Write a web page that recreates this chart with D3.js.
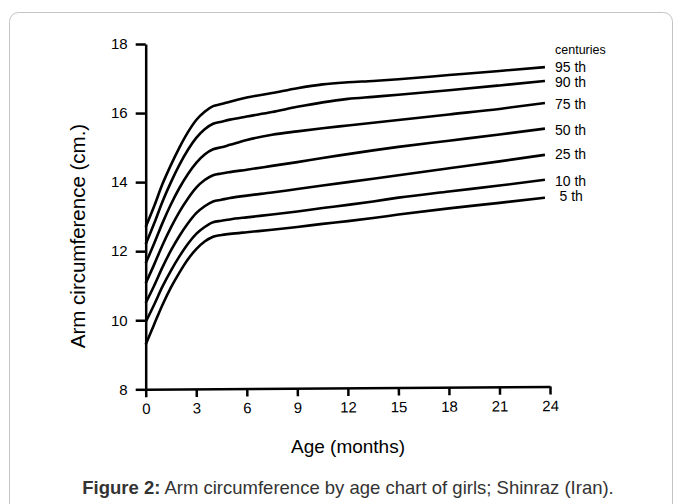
<!DOCTYPE html>
<html>
<head>
<meta charset="utf-8">
<script src="https://cdn.jsdelivr.net/npm/d3@7"></script>
<style>
  html, body { margin: 0; padding: 0; background: #fff; }
  svg { display: block; font-family: "Liberation Sans", Arial, sans-serif; }
</style>
</head>
<body>
<svg id="chart" width="681" height="504"></svg>
<script>
// ---- data ----
const months = [0, 0.5, 1, 1.5, 2, 2.5, 3, 3.5, 4, 4.5, 5, 6, 7.5, 9, 10.5, 12, 13.5, 15, 18, 21, 23.7];
const p95 = [12.7, 13.3, 13.95, 14.5, 15.0, 15.44, 15.8, 16.04, 16.2, 16.26, 16.33, 16.45, 16.58, 16.72, 16.83, 16.89, 16.93, 16.98, 17.1, 17.22, 17.33];
const p90 = [12.2, 12.8, 13.44, 14.0, 14.5, 14.93, 15.28, 15.53, 15.69, 15.75, 15.81, 15.9, 16.03, 16.18, 16.31, 16.41, 16.47, 16.53, 16.66, 16.8, 16.93];
const p75 = [11.65, 12.22, 12.82, 13.36, 13.83, 14.23, 14.56, 14.8, 14.95, 15.01, 15.08, 15.22, 15.37, 15.47, 15.56, 15.64, 15.72, 15.8, 15.96, 16.12, 16.29];
const p50 = [11.07, 11.61, 12.18, 12.69, 13.14, 13.52, 13.84, 14.06, 14.2, 14.25, 14.29, 14.36, 14.47, 14.58, 14.7, 14.81, 14.92, 15.02, 15.2, 15.38, 15.55];
const p25 = [10.5, 11.0, 11.54, 12.02, 12.44, 12.8, 13.1, 13.3, 13.44, 13.49, 13.54, 13.61, 13.7, 13.8, 13.9, 14.0, 14.1, 14.2, 14.4, 14.6, 14.79];
const p10 = [9.95, 10.45, 10.98, 11.44, 11.85, 12.21, 12.5, 12.7, 12.84, 12.88, 12.92, 12.98, 13.06, 13.15, 13.25, 13.34, 13.44, 13.55, 13.73, 13.9, 14.07];
const p5  = [9.3, 9.88, 10.45, 10.95, 11.38, 11.76, 12.06, 12.28, 12.42, 12.47, 12.5, 12.55, 12.62, 12.7, 12.79, 12.87, 12.96, 13.06, 13.24, 13.4, 13.55];
const seriesNames = ["95 th", "90 th", "75 th", "50 th", "25 th", "10 th", "5 th"];
const seriesValues = [p95, p90, p75, p50, p25, p10, p5];
const xTicks = [0, 3, 6, 9, 12, 15, 18, 21, 24];
const yTicks = [8, 10, 12, 14, 16, 18];

// ---- layout ----
const svg = d3.select("#chart");
const x = d3.scaleLinear().domain([0, 24]).range([145.7, 550]);
const y = d3.scaleLinear().domain([8, 18]).range([389.3, 44]);

// frame
svg.append("rect")
  .attr("x", 9.5).attr("y", 12.5).attr("width", 663).attr("height", 520)
  .attr("rx", 9).attr("fill", "none").attr("stroke", "#c4c4c4").attr("stroke-width", 1);

// axes
const yAxis = svg.append("g")
  .attr("transform", `translate(${x(0)},0)`)
  .call(d3.axisLeft(y).tickValues(yTicks).tickSize(10).tickSizeOuter(0).tickPadding(8));
const xAxis = svg.append("g")
  .attr("transform", `rotate(-0.4, ${x(0)}, ${y(8)}) translate(0,${y(8)})`)
  .call(d3.axisBottom(x).tickValues(xTicks).tickSize(8).tickSizeOuter(0).tickPadding(6));
[yAxis, xAxis].forEach(g => {
  g.selectAll("path.domain").attr("stroke", "#000").attr("stroke-width", 2.5);
  g.selectAll(".tick line").attr("stroke", "#000").attr("stroke-width", 2.5);
  g.selectAll(".tick text").attr("fill", "#000").style("font-size", "15px")
    .style("font-family", "'Liberation Sans', Arial, sans-serif");
});

// curves
const line = d3.line().x((d, i) => x(months[i])).y(d => y(d)).curve(d3.curveMonotoneX);
svg.append("g").selectAll("path").data(seriesValues).join("path")
  .attr("d", d => line(d))
  .attr("fill", "none").attr("stroke", "#000").attr("stroke-width", 2.6)
  .attr("stroke-linejoin", "round");

// legend labels
svg.append("text").attr("x", 555).attr("y", 49.5).attr("dy", "0.35em")
  .style("font-size", "12.5px").text("centuries");
const labelY = [67.3, 82.3, 104, 130, 154, 180.7, 195.7];
svg.append("g").selectAll("text").data(seriesNames).join("text")
  .attr("x", (d, i) => i === 6 ? 559.5 : 555)
  .attr("y", (d, i) => labelY[i]).attr("dy", "0.35em")
  .style("font-size", "14px").text(d => d);

// axis titles
svg.append("text")
  .attr("transform", `translate(85,236) rotate(-90)`)
  .attr("text-anchor", "middle").style("font-size", "20.5px")
  .text("Arm circumference (cm.)");
svg.append("text").attr("x", 348).attr("y", 446).attr("dy", "0.35em")
  .attr("text-anchor", "middle").style("font-size", "19px").text("Age (months)");

// caption
const cap = svg.append("text").attr("x", 348).attr("y", 488).attr("dy", "0.35em")
  .attr("text-anchor", "middle").style("font-size", "18.5px").attr("fill", "#333");
cap.append("tspan").style("font-weight", "bold").text("Figure 2:");
cap.append("tspan").text(" Arm circumference by age chart of girls; Shinraz (Iran).");
</script>
</body>
</html>
